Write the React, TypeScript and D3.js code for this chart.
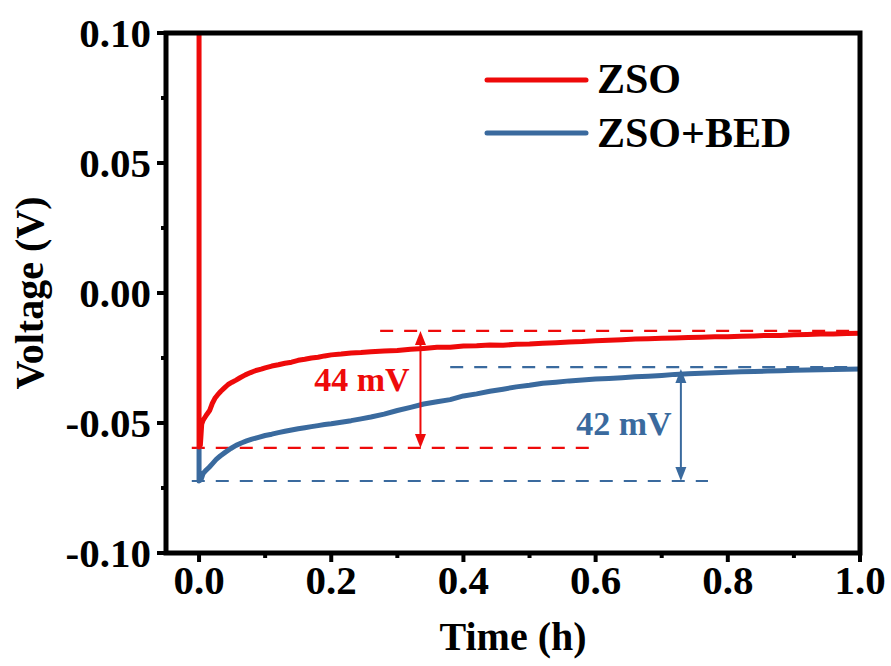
import React from "react";
import * as d3 from "d3";

// ZSO voltage trace (time in h, voltage in V)
const zsoTime = [0, 0, 0.002, 0.004, 0.006, 0.009, 0.012, 0.016, 0.02, 0.024, 0.028, 0.033, 0.038, 0.044, 0.05, 0.056, 0.062, 0.07, 0.078, 0.086, 0.094, 0.1, 0.11, 0.12, 0.13, 0.14, 0.15, 0.16, 0.17, 0.18, 0.19, 0.2, 0.215, 0.23, 0.245, 0.26, 0.28, 0.3, 0.32, 0.34, 0.36, 0.38, 0.4, 0.42, 0.44, 0.46, 0.48, 0.5, 0.52, 0.54, 0.56, 0.58, 0.6, 0.62, 0.64, 0.66, 0.68, 0.7, 0.72, 0.74, 0.76, 0.78, 0.8, 0.82, 0.84, 0.86, 0.88, 0.9, 0.92, 0.94, 0.96, 0.98, 1.0];
const zsoVoltage = [0.13, -0.0592, -0.0585, -0.0505, -0.049, -0.0478, -0.0466, -0.0452, -0.0425, -0.0405, -0.0392, -0.0378, -0.0366, -0.0352, -0.0343, -0.0335, -0.0326, -0.0315, -0.0306, -0.0298, -0.0293, -0.0288, -0.0281, -0.0276, -0.0270, -0.0266, -0.0259, -0.0255, -0.0250, -0.0247, -0.0242, -0.0238, -0.0235, -0.0231, -0.0229, -0.0226, -0.0223, -0.0221, -0.0216, -0.0213, -0.0209, -0.0209, -0.0204, -0.0203, -0.0200, -0.0201, -0.0197, -0.0196, -0.0193, -0.0191, -0.0188, -0.0187, -0.0184, -0.0182, -0.0180, -0.0177, -0.0176, -0.0174, -0.0173, -0.0171, -0.0170, -0.0168, -0.0168, -0.0166, -0.0165, -0.0163, -0.0163, -0.0161, -0.0160, -0.0158, -0.0158, -0.0156, -0.0155];

// ZSO+BED voltage trace
const bedTime = [0, 0, 0.003, 0.006, 0.01, 0.015, 0.02, 0.026, 0.032, 0.04, 0.048, 0.056, 0.064, 0.072, 0.08, 0.09, 0.1, 0.11, 0.12, 0.13, 0.14, 0.15, 0.16, 0.17, 0.18, 0.19, 0.2, 0.215, 0.23, 0.245, 0.26, 0.28, 0.3, 0.32, 0.34, 0.36, 0.38, 0.4, 0.42, 0.44, 0.46, 0.48, 0.5, 0.52, 0.54, 0.56, 0.58, 0.6, 0.62, 0.64, 0.66, 0.68, 0.7, 0.72, 0.74, 0.76, 0.78, 0.8, 0.82, 0.84, 0.86, 0.88, 0.9, 0.92, 0.94, 0.96, 0.98, 1.0];
const bedVoltage = [-0.0592, -0.0723, -0.0718, -0.0695, -0.0683, -0.0671, -0.0657, -0.0640, -0.0627, -0.0612, -0.0598, -0.0586, -0.0577, -0.0569, -0.0562, -0.0555, -0.0548, -0.0543, -0.0537, -0.0532, -0.0527, -0.0522, -0.0518, -0.0514, -0.0510, -0.0506, -0.0503, -0.0497, -0.0491, -0.0484, -0.0477, -0.0466, -0.0452, -0.0440, -0.0427, -0.0418, -0.0410, -0.0396, -0.0388, -0.0378, -0.0370, -0.0361, -0.0355, -0.0347, -0.0343, -0.0338, -0.0335, -0.0331, -0.0329, -0.0326, -0.0322, -0.0320, -0.0317, -0.0313, -0.0311, -0.0309, -0.0307, -0.0305, -0.0303, -0.0302, -0.0300, -0.0299, -0.0297, -0.0296, -0.0295, -0.0294, -0.0293, -0.0292];

const seriesNames = ["ZSO", "ZSO+BED"];
const xTicks = [0, 0.2, 0.4, 0.6, 0.8, 1.0];
const xMinorTicks = [0.1, 0.3, 0.5, 0.7, 0.9];
const yTicks = [0.1, 0.05, 0, -0.05, -0.1];
const yMinorTicks = [0.075, 0.025, -0.025, -0.075];

// Reference levels for the overpotential annotations
const zsoLevels = { high: -0.0146, low: -0.0596, label: "44 mV" };
const bedLevels = { high: -0.0285, low: -0.0723, label: "42 mV" };

const RED = "#ee0a0a";
const BLUE = "#3a6a9e";
const FONT = "'Liberation Serif', 'Times New Roman', serif";

const W = 891;
const H = 666;
const left = 166, right = 860, top = 33, bottom = 553;

// plain hyphen for negative numbers
const fmt = (spec: string) => (v: number) => d3.format(spec)(v).replace("\u2212", "-");

export default function App() {
  const x = d3.scaleLinear().domain([-0.05, 1.0]).range([left, right]);
  const y = d3.scaleLinear().domain([-0.1, 0.1]).range([bottom, top]);

  const line = d3
    .line<[number, number]>()
    .x((d) => x(d[0]))
    .y((d) => y(d[1]));

  const zsoPts = zsoTime.map((t, i) => [t, zsoVoltage[i]] as [number, number]);
  const bedPts = bedTime.map((t, i) => [t, bedVoltage[i]] as [number, number]);

  const arrow = (xv: number, v1: number, v2: number, color: string) => {
    const xp = x(xv);
    const y1 = y(v1);
    const y2 = y(v2);
    const hl = 14, hw = 5.5;
    return (
      <g>
        <line x1={xp} x2={xp} y1={y1 + hl} y2={y2 - hl} stroke={color} strokeWidth={2} />
        <path d={`M${xp},${y1} L${xp - hw},${y1 + hl} L${xp + hw},${y1 + hl} Z`} fill={color} />
        <path d={`M${xp},${y2} L${xp - hw},${y2 - hl} L${xp + hw},${y2 - hl} Z`} fill={color} />
      </g>
    );
  };

  return (
    <svg
      width={W}
      height={H}
      style={{ position: "absolute", left: 0, top: 0, background: "#fff" }}
      fontFamily={FONT}
      fontWeight="bold"
    >
      <defs>
        <clipPath id="plotClip">
          <rect x={left} y={top} width={right - left} height={bottom - top} />
        </clipPath>
      </defs>

      {/* dashed guide lines */}
      <g strokeWidth={2.2} strokeDasharray="13 11" fill="none">
        <line x1={x(0.274)} x2={x(1.0)} y1={y(zsoLevels.high)} y2={y(zsoLevels.high)} stroke={RED} />
        <line x1={x(-0.011)} x2={x(0.605)} y1={y(zsoLevels.low)} y2={y(zsoLevels.low)} stroke={RED} />
        <line x1={x(0.38)} x2={x(1.0)} y1={y(bedLevels.high)} y2={y(bedLevels.high)} stroke={BLUE} />
        <line x1={x(-0.011)} x2={x(0.77)} y1={y(bedLevels.low)} y2={y(bedLevels.low)} stroke={BLUE} />
      </g>

      {/* data traces */}
      <g clipPath="url(#plotClip)" fill="none" strokeWidth={5} strokeLinejoin="round">
        <path d={line(bedPts) ?? ""} stroke={BLUE} />
        <path d={line(zsoPts) ?? ""} stroke={RED} />
      </g>

      {/* difference arrows and labels */}
      {arrow(0.335, zsoLevels.high, zsoLevels.low, RED)}
      {arrow(0.729, -0.0292, bedLevels.low, BLUE)}
      <text x={362} y={391} fill={RED} fontSize={34} textAnchor="middle">
        {zsoLevels.label}
      </text>
      <text x={624} y={435} fill={BLUE} fontSize={34} textAnchor="middle">
        {bedLevels.label}
      </text>

      {/* frame */}
      <rect
        x={left}
        y={top}
        width={right - left}
        height={bottom - top}
        fill="none"
        stroke="#000"
        strokeWidth={5}
      />

      {/* ticks */}
      <g stroke="#000" strokeWidth={4}>
        {xTicks.map((t) => (
          <line key={t} x1={x(t)} x2={x(t)} y1={bottom} y2={bottom + 9} />
        ))}
        {xMinorTicks.map((t) => (
          <line key={t} x1={x(t)} x2={x(t)} y1={bottom} y2={bottom + 5} />
        ))}
        {yTicks.map((t) => (
          <line key={t} x1={left} x2={left - 9} y1={y(t)} y2={y(t)} />
        ))}
        {yMinorTicks.map((t) => (
          <line key={t} x1={left} x2={left - 5} y1={y(t)} y2={y(t)} />
        ))}
      </g>

      <g fontSize={41} fill="#000">
        {xTicks.map((t) => (
          <text key={t} x={x(t)} y={594} textAnchor="middle">
            {fmt(".1f")(t)}
          </text>
        ))}
        {yTicks.map((t) => (
          <text key={t} x={151} y={y(t)} dy="0.35em" textAnchor="end">
            {fmt(".2f")(t)}
          </text>
        ))}
      </g>

      {/* axis titles */}
      <text x={(left + right) / 2} y={650} fontSize={40} textAnchor="middle" fill="#000">
        Time (h)
      </text>
      <text
        transform={`translate(43, ${(top + bottom) / 2}) rotate(-90)`}
        fontSize={40}
        textAnchor="middle"
        fill="#000"
      >
        Voltage (V)
      </text>

      {/* legend */}
      <g>
        <line x1={487} x2={586} y1={80} y2={80} stroke={RED} strokeWidth={5} strokeLinecap="round" />
        <text x={597} y={93} fontSize={42} fill="#000">{seriesNames[0]}</text>
        <line x1={487} x2={586} y1={133} y2={133} stroke={BLUE} strokeWidth={5} strokeLinecap="round" />
        <text x={597} y={147} fontSize={42} fill="#000">{seriesNames[1]}</text>
      </g>
    </svg>
  );
}
